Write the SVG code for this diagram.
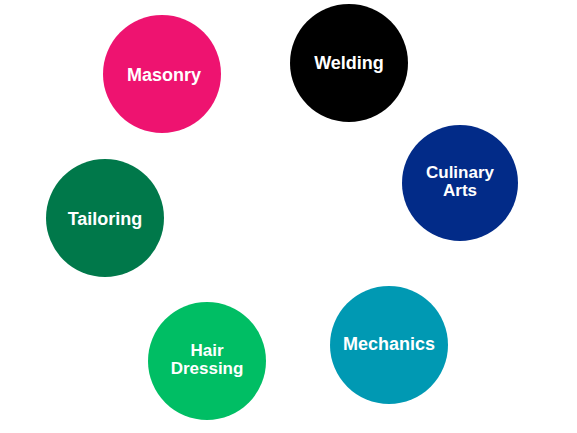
<svg xmlns="http://www.w3.org/2000/svg" width="577" height="433" viewBox="0 0 577 433">
<style>
.lbl{font-family:"Liberation Sans",Arial,sans-serif;font-weight:bold;font-size:18px;fill:#ffffff;text-anchor:middle}
.two{font-size:17px}
</style>
<rect width="577" height="433" fill="#ffffff"/>
<g id="connectors"></g>
<g id="masonry"><circle cx="162" cy="74" r="59" fill="#EE1370"/><text class="lbl" x="164" y="81">Masonry</text></g>
<g id="welding"><circle cx="349" cy="63" r="59" fill="#000000"/><text class="lbl" x="349" y="69">Welding</text></g>
<g id="culinary"><circle cx="460" cy="183" r="58" fill="#022B88"/><text class="lbl two" x="460" y="178">Culinary</text><text class="lbl two" x="460" y="196">Arts</text></g>
<g id="tailoring"><circle cx="105" cy="218" r="59" fill="#00784A"/><text class="lbl" x="105" y="225">Tailoring</text></g>
<g id="hairdressing"><circle cx="207" cy="361" r="59" fill="#00BE64"/><text class="lbl two" x="207" y="356">Hair</text><text class="lbl two" x="207" y="374">Dressing</text></g>
<g id="mechanics"><circle cx="389" cy="345" r="59" fill="#0099B3"/><text class="lbl" x="389" y="350">Mechanics</text></g>
</svg>
